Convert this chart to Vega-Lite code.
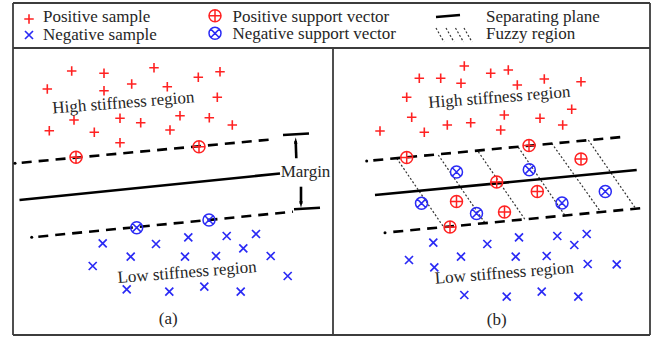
{
  "$schema": "https://vega.github.io/schema/vega-lite/v6.json",
  "width": 661,
  "height": 340,
  "autosize": {"type": "none"},
  "padding": 0,
  "background": "white",
  "config": {"view": {"stroke": null}},
  "datasets": {
    "frame": [
      {"x": 13, "y": 3, "x2": 650, "y2": 3},
      {"x": 13, "y": 335, "x2": 650, "y2": 335},
      {"x": 13, "y": 3, "x2": 13, "y2": 335},
      {"x": 650, "y": 3, "x2": 650, "y2": 335},
      {"x": 13, "y": 48, "x2": 650, "y2": 48},
      {"x": 333, "y": 48, "x2": 333, "y2": 335}
    ],
    "planes": [
      {"x": 19.5, "y": 200, "x2": 280, "y2": 173.5},
      {"x": 375, "y": 195, "x2": 636.7, "y2": 170},
      {"x": 436, "y": 17, "x2": 460, "y2": 15},
      {"x": 283, "y": 135, "x2": 309, "y2": 133.5},
      {"x": 294, "y": 209.3, "x2": 320, "y2": 207.8},
      {"x": 295.7, "y": 141, "x2": 296.3, "y2": 158.3},
      {"x": 301, "y": 186.7, "x2": 301, "y2": 204}
    ],
    "margins": [
      {"x": 21.7, "y": 162.7, "x2": 273, "y2": 139.3},
      {"x": 38.3, "y": 236.7, "x2": 293, "y2": 211.7},
      {"x": 373.3, "y": 160.4, "x2": 625, "y2": 136.7},
      {"x": 393.3, "y": 231.9, "x2": 643.3, "y2": 208}
    ],
    "fuzzy": [
      {"x": 396.7, "y": 158.3, "x2": 443.6, "y2": 227},
      {"x": 438.3, "y": 155, "x2": 485, "y2": 223},
      {"x": 478.3, "y": 151.7, "x2": 525, "y2": 219.5},
      {"x": 518.3, "y": 147.3, "x2": 565, "y2": 215.5},
      {"x": 551.7, "y": 143.3, "x2": 600, "y2": 211},
      {"x": 588.3, "y": 140, "x2": 635, "y2": 207.5},
      {"x": 436, "y": 28, "x2": 444, "y2": 42},
      {"x": 446, "y": 28, "x2": 454, "y2": 42},
      {"x": 455.5, "y": 28, "x2": 463.5, "y2": 42},
      {"x": 464, "y": 28, "x2": 472, "y2": 42}
    ],
    "dots": [
      {"x": 15, "y": 163.3},
      {"x": 31.7, "y": 237.3},
      {"x": 366.7, "y": 161},
      {"x": 385, "y": 232.7}
    ],
    "arrowUp": [{"x": 295.7, "y": 140.5}],
    "arrowDown": [{"x": 301, "y": 204.5}],
    "positive": [
      {"x": 29, "y": 19},
      {"x": 71.7, "y": 71}, {"x": 104, "y": 73.3}, {"x": 154, "y": 67.7}, {"x": 198.3, "y": 77.3}, {"x": 220, "y": 71.7},
      {"x": 47.3, "y": 89}, {"x": 104, "y": 90.7}, {"x": 131.7, "y": 84}, {"x": 167.3, "y": 86.7}, {"x": 217.3, "y": 97.3},
      {"x": 74, "y": 120}, {"x": 120, "y": 118.3}, {"x": 140.7, "y": 122.7}, {"x": 180, "y": 115.7}, {"x": 209.3, "y": 117.7},
      {"x": 49.3, "y": 130.7}, {"x": 94.3, "y": 132.3}, {"x": 170, "y": 130}, {"x": 232.3, "y": 125}, {"x": 120, "y": 142.7},
      {"x": 464.3, "y": 66}, {"x": 419.3, "y": 78.3}, {"x": 440.7, "y": 78.3}, {"x": 490.7, "y": 73.3}, {"x": 508.3, "y": 70},
      {"x": 461, "y": 83.3}, {"x": 517.3, "y": 85}, {"x": 544.3, "y": 79}, {"x": 581, "y": 81.7}, {"x": 406.7, "y": 97.3},
      {"x": 571.7, "y": 109.3}, {"x": 411.7, "y": 117.3}, {"x": 504.3, "y": 115}, {"x": 540, "y": 118.3}, {"x": 380, "y": 131},
      {"x": 424.3, "y": 132.3}, {"x": 447.3, "y": 125}, {"x": 470.7, "y": 122.7}, {"x": 500.7, "y": 130}, {"x": 562.7, "y": 125}
    ],
    "negative": [
      {"x": 29, "y": 35},
      {"x": 102.7, "y": 243.3}, {"x": 156, "y": 244}, {"x": 188.3, "y": 237.3}, {"x": 226.7, "y": 236}, {"x": 256, "y": 234},
      {"x": 130.7, "y": 256.7}, {"x": 185, "y": 256.7}, {"x": 216, "y": 256}, {"x": 243.3, "y": 248.3}, {"x": 270.7, "y": 256},
      {"x": 92.7, "y": 266}, {"x": 287.7, "y": 276}, {"x": 126.7, "y": 289.3}, {"x": 169.3, "y": 291.7}, {"x": 204.3, "y": 286.7},
      {"x": 240.7, "y": 291.7},
      {"x": 433.3, "y": 242.7}, {"x": 487.3, "y": 244}, {"x": 519, "y": 237.3}, {"x": 557.3, "y": 236}, {"x": 586.7, "y": 234},
      {"x": 574.3, "y": 245}, {"x": 409, "y": 260}, {"x": 434.3, "y": 267.3}, {"x": 461, "y": 256.7}, {"x": 515.7, "y": 256.7},
      {"x": 546.7, "y": 256}, {"x": 587.7, "y": 264}, {"x": 616.7, "y": 264.3}, {"x": 464.3, "y": 295}, {"x": 506.7, "y": 296.7},
      {"x": 541.7, "y": 291.7}, {"x": 578.3, "y": 296.7}
    ],
    "psv": [
      {"x": 215, "y": 15.7},
      {"x": 76, "y": 157.3}, {"x": 199, "y": 146.7},
      {"x": 406.7, "y": 157.5}, {"x": 529, "y": 145.5}, {"x": 581, "y": 159}, {"x": 496.7, "y": 182},
      {"x": 456.5, "y": 201.5}, {"x": 537.3, "y": 191.5}, {"x": 504.5, "y": 212}, {"x": 450, "y": 227}
    ],
    "nsv": [
      {"x": 215, "y": 33.3},
      {"x": 136.7, "y": 227.7}, {"x": 209, "y": 220},
      {"x": 456.5, "y": 172}, {"x": 529.3, "y": 169.7}, {"x": 421.5, "y": 203.3}, {"x": 476.5, "y": 213.5},
      {"x": 562, "y": 203}, {"x": 605.3, "y": 191.5}
    ],
    "legendText": [
      {"x": 43, "y": 17, "t": "Positive sample"},
      {"x": 43, "y": 34.5, "t": "Negative sample"},
      {"x": 232.5, "y": 16.5, "t": "Positive support vector"},
      {"x": 232.5, "y": 34, "t": "Negative support vector"},
      {"x": 486, "y": 16.5, "t": "Separating plane"},
      {"x": 486, "y": 34, "t": "Fuzzy region"}
    ],
    "regionText": [
      {"x": 123.3, "y": 103, "t": "High stiffness region"},
      {"x": 499.3, "y": 97.5, "t": "High stiffness region"},
      {"x": 187, "y": 272.5, "t": "Low stiffness region"},
      {"x": 504.3, "y": 273.3, "t": "Low stiffness region"}
    ],
    "plainText": [
      {"x": 305.5, "y": 171.7, "t": "Margin"},
      {"x": 168.3, "y": 318.5, "t": "(a)"},
      {"x": 496.7, "y": 319.5, "t": "(b)"}
    ]
  },
  "encoding": {
    "x": {"field": "x", "type": "quantitative", "scale": {"domain": [0, 661], "nice": false, "zero": false}, "axis": null},
    "y": {"field": "y", "type": "quantitative", "scale": {"domain": [0, 340], "nice": false, "zero": false, "reverse": true}, "axis": null}
  },
  "layer": [
    {
      "data": {"name": "frame"},
      "mark": {"type": "rule", "color": "#3c3c3c", "strokeWidth": 1.8},
      "encoding": {"x2": {"field": "x2"}, "y2": {"field": "y2"}}
    },
    {
      "data": {"name": "fuzzy"},
      "mark": {"type": "rule", "color": "#333333", "strokeWidth": 1.2, "strokeDash": [2, 2]},
      "encoding": {"x2": {"field": "x2"}, "y2": {"field": "y2"}}
    },
    {
      "data": {"name": "margins"},
      "mark": {"type": "rule", "color": "#000000", "strokeWidth": 2.6, "strokeDash": [10, 7]},
      "encoding": {"x2": {"field": "x2"}, "y2": {"field": "y2"}}
    },
    {
      "data": {"name": "planes"},
      "mark": {"type": "rule", "color": "#000000", "strokeWidth": 2.6},
      "encoding": {"x2": {"field": "x2"}, "y2": {"field": "y2"}}
    },
    {
      "data": {"name": "dots"},
      "mark": {"type": "point", "shape": "circle", "filled": true, "color": "#000000", "size": 9, "opacity": 1}
    },
    {
      "data": {"name": "arrowUp"},
      "mark": {"type": "point", "shape": "M0,-1L0.55,1L-0.55,1Z", "filled": true, "color": "#000000", "size": 40, "opacity": 1}
    },
    {
      "data": {"name": "arrowDown"},
      "mark": {"type": "point", "shape": "M0,1L0.55,-1L-0.55,-1Z", "filled": true, "color": "#000000", "size": 40, "opacity": 1}
    },
    {
      "data": {"name": "positive"},
      "mark": {"type": "point", "shape": "M-1,0L1,0M0,-1L0,1", "filled": false, "color": "#ff2222", "strokeWidth": 1.6, "size": 90, "opacity": 1}
    },
    {
      "data": {"name": "negative"},
      "mark": {"type": "point", "shape": "M-1,-1L1,1M-1,1L1,-1", "filled": false, "color": "#2a2af5", "strokeWidth": 1.7, "size": 64, "opacity": 1}
    },
    {
      "data": {"name": "psv"},
      "mark": {"type": "point", "shape": "M-1,0A1,1 0 1,1 1,0A1,1 0 1,1 -1,0ZM-1,0L1,0M0,-1L0,1", "filled": false, "color": "#ff2222", "strokeWidth": 1.5, "size": 144, "opacity": 1}
    },
    {
      "data": {"name": "nsv"},
      "mark": {"type": "point", "shape": "M-1,0A1,1 0 1,1 1,0A1,1 0 1,1 -1,0ZM-0.7,-0.7L0.7,0.7M-0.7,0.7L0.7,-0.7", "filled": false, "color": "#2a2af5", "strokeWidth": 1.5, "size": 144, "opacity": 1}
    },
    {
      "data": {"name": "legendText"},
      "mark": {"type": "text", "font": "Liberation Serif", "fontSize": 17, "color": "#262626", "align": "left", "baseline": "middle"},
      "encoding": {"text": {"field": "t"}}
    },
    {
      "data": {"name": "regionText"},
      "mark": {"type": "text", "font": "Liberation Serif", "fontSize": 17, "color": "#262626", "align": "center", "baseline": "middle", "angle": 355.5},
      "encoding": {"text": {"field": "t"}}
    },
    {
      "data": {"name": "plainText"},
      "mark": {"type": "text", "font": "Liberation Serif", "fontSize": 17, "color": "#262626", "align": "center", "baseline": "middle"},
      "encoding": {"text": {"field": "t"}}
    }
  ]
}
